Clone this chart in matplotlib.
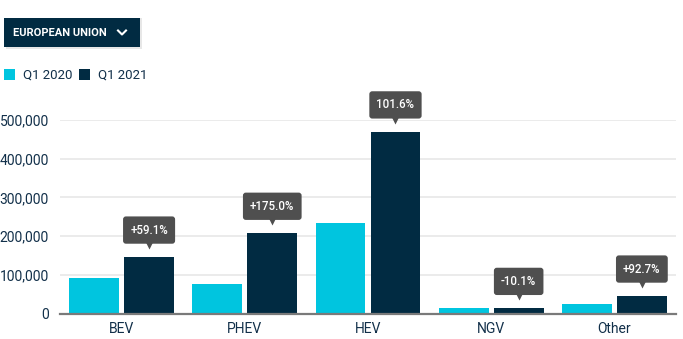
import matplotlib
matplotlib.use('Agg')
import matplotlib.pyplot as plt
import matplotlib.transforms as mtrans
from matplotlib.patches import Rectangle
from matplotlib.lines import Line2D
import numpy as np

plt.rcParams['font.family'] = ['Roboto', 'DejaVu Sans']

categories = ["BEV", "PHEV", "HEV", "NGV", "Other"]
q1_2020 = [91500, 75300, 232600, 14500, 23300]
q1_2021 = [145600, 207100, 469000, 13000, 44900]
changes = ["+59.1%", "+175.0%", "101.6%", "-10.1%", "+92.7%"]
yticks = [0, 100000, 200000, 300000, 400000, 500000]

CYAN = '#00c5df'
NAVY = '#012b42'
TXT = '#12304a'
TIP = '#4f4f4f'

W, H = 683, 339
fig = plt.figure(figsize=(W / 100, H / 100), dpi=100, facecolor='white')

def fx(px): return px / W
def fy(py): return 1 - py / H

# ── dropdown button ──
fig.patches.append(Rectangle((fx(5.5), fy(48.5)), fx(136), 30 / H, transform=fig.transFigure,
                             fc='#d0d0d0', ec='none', alpha=0.5, zorder=0))
fig.patches.append(Rectangle((fx(4), fy(47)), fx(136), 29 / H, transform=fig.transFigure,
                             fc=NAVY, ec='none', zorder=1))
fig.text(fx(13), fy(32.5), "EUROPEAN UNION", color='white', fontsize=8, fontweight='bold',
         ha='left', va='center', zorder=2)
fig.add_artist(Line2D([fx(118), fx(122), fx(126)], [fy(30.5), fy(34.5), fy(30.5)],
                      transform=fig.transFigure, color='white', lw=1.5, zorder=2))

# ── legend ──
for x0, col, lab in [(4, CYAN, "Q1 2020"), (79, NAVY, "Q1 2021")]:
    fig.patches.append(Rectangle((fx(x0), fy(80)), fx(11), 11 / H, transform=fig.transFigure,
                                 fc=col, ec='none'))
    fig.text(fx(x0 + 19), fy(75), lab, color=TXT, fontsize=9.5, ha='left', va='center')

# ── bars ──
ax = fig.add_axes([fx(60), 1 - 313.5 / H, fx(616), (313.5 - 120) / H])
x = np.arange(len(categories))
bw = 0.405
off = 0.223
ax.bar(x - off, q1_2020, bw, color=CYAN, zorder=3)
ax.bar(x + off, q1_2021, bw, color=NAVY, zorder=3)

ax.set_xlim(-0.5, 4.5)
ax.set_ylim(0, 500000)
ax.set_yticks(yticks)
ax.set_yticklabels([f"{v:,}" for v in yticks])
ax.set_xticks(x)
ax.set_xticklabels(categories)
ax.tick_params(axis='y', length=0, pad=8, labelsize=10, labelcolor=TXT)
ax.tick_params(axis='x', length=0, pad=6, labelsize=10, labelcolor=TXT)
ax.grid(axis='y', color='#ebebeb', lw=1.4, zorder=0)
for s in ['top', 'right', 'left']:
    ax.spines[s].set_visible(False)
ax.spines['bottom'].set_color('#7a7a7a')
ax.spines['bottom'].set_linewidth(1.6)
ax.spines['bottom'].set_zorder(4)

# ── change callouts ──
for xi, v, lab in zip(x, q1_2021, changes):
    ax.annotate(lab, xy=(xi + off, v), xytext=(0, 19.5), textcoords='offset points',
                ha='center', va='center', color='white', fontsize=8.3, fontweight='medium',
                bbox=dict(boxstyle='round,pad=0.62,rounding_size=0.25', fc=TIP, ec='none'),
                annotation_clip=False, zorder=6)
    shift = mtrans.ScaledTranslation(0, 13.0 / 100, fig.dpi_scale_trans)
    ax.plot([xi + off], [v], marker='v', ms=6.5, color=TIP, mec='none',
            transform=ax.transData + shift, clip_on=False, zorder=5)

fig.savefig('out.png', dpi=100, facecolor='white')
